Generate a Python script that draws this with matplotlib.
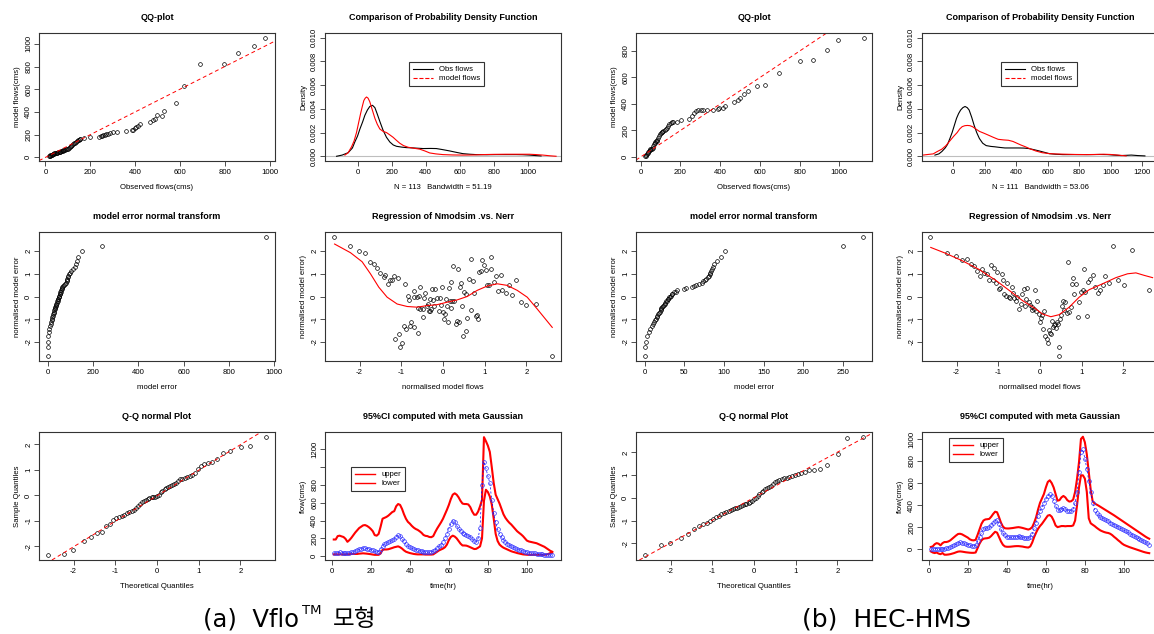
import numpy as np
import matplotlib
matplotlib.use("Agg")
import matplotlib.pyplot as plt
from matplotlib.lines import Line2D

plt.rcParams['font.family'] = ['Liberation Sans', 'DejaVu Sans']
plt.rcParams['axes.unicode_minus'] = False

W, H = 1154, 634

# ---------------- data ----------------
# QQ-plot: sorted observed vs sorted model flows
obs_q_a = [15, 18, 20, 22, 25, 28, 30, 32, 35, 38, 40, 43, 46, 50, 53, 56, 60, 63, 66, 70,
           73, 76, 80, 84, 88, 92, 96, 100, 104, 108, 112, 116, 120, 124, 128, 132, 136, 140, 144, 148,
           152, 156, 170, 197, 240, 246, 252, 258, 265, 272, 280, 290, 300, 320, 360, 385, 390, 398, 405, 412,
           420, 467, 478, 490, 497, 518, 529, 581, 619, 689, 796, 859, 930, 981]
mod_q_a = [10, 12, 15, 18, 20, 23, 25, 27, 30, 32, 35, 37, 39, 40, 42, 43, 45, 48, 50, 55,
           58, 60, 62, 65, 68, 70, 73, 78, 84, 90, 96, 104, 112, 118, 124, 130, 138, 145, 150, 155,
           160, 165, 170, 176, 180, 185, 190, 195, 200, 205, 210, 215, 220, 225, 235, 238, 245, 255, 265, 280,
           295, 315, 325, 340, 370, 368, 405, 480, 630, 818, 824, 920, 980, 1053]
obs_q_b = [22, 25, 28, 32, 35, 38, 42, 45, 48, 50, 55, 60, 63, 67, 70, 73, 76, 80, 84, 88,
           92, 96, 100, 105, 109, 114, 120, 125, 131, 137, 143, 150, 155, 160, 182, 205, 244, 257, 269, 277,
           289, 303, 314, 331, 365, 387, 395, 412, 424, 471, 487, 501, 521, 538, 585, 627, 697, 803, 866, 938,
           992, 1126]
mod_q_b = [5, 8, 15, 22, 30, 38, 45, 52, 58, 60, 62, 68, 80, 96, 105, 112, 118, 121, 128, 140,
           158, 170, 178, 185, 189, 195, 202, 209, 218, 234, 245, 255, 262, 267, 267, 282, 284, 309, 335, 347,
           352, 352, 352, 352, 355, 360, 367, 372, 382, 418, 428, 448, 478, 498, 533, 543, 636, 724, 730, 805,
           883, 896]

# density curves
dens_obs_a_x = [-123, -90, -55, -30, -16, 0, 14, 30, 43, 58, 72, 88, 102, 115, 132, 150, 170, 190, 210, 229,
                260, 287, 330, 385, 430, 463, 500, 541, 580, 619, 660, 697, 760, 814, 870, 932, 970, 1010, 1045, 1078]
dens_obs_a_y = [0.0, 0.0001, 0.0003, 0.0007, 0.0012, 0.0017, 0.0023, 0.0029, 0.00345, 0.0039,
                0.0042, 0.0043, 0.0041, 0.0036, 0.0029, 0.0022, 0.0016, 0.0012, 0.00095, 0.00084,
                0.00077, 0.00073, 0.0007, 0.00065, 0.00066, 0.00065, 0.00056, 0.00045, 0.00033, 0.00022,
                0.00017, 0.00014, 0.00013, 0.00014, 0.00014, 0.00014, 0.00013, 0.0001, 0.00006, 0.00003]
dens_mod_a_x = [-74, -55, -35, -20, -6, 6, 18, 28, 37, 45, 53, 62, 72, 87, 102, 116, 131, 150, 170, 190,
                209, 228, 248, 270, 297, 330, 365, 395, 424, 460, 502, 560, 619, 680, 736, 800, 873, 940, 1010, 1050,
                1088, 1130, 1166]
dens_mod_a_y = [0.0001, 0.0003, 0.0008, 0.0013, 0.002, 0.0028, 0.0036, 0.0042, 0.0047, 0.0049,
                0.005, 0.0049, 0.0046, 0.0039, 0.0032, 0.0027, 0.0023, 0.0021, 0.002, 0.0018,
                0.0016, 0.00135, 0.0011, 0.0009, 0.00076, 0.00068, 0.0006, 0.00045, 0.00028, 0.0002,
                0.00014, 0.00011, 0.0001, 0.00011, 0.00014, 0.00016, 0.00017, 0.00017, 0.00017, 0.00014,
                0.0001, 0.00004, 0.0]
dens_obs_b_x = [-115, -90, -71, -50, -35, -20, -6, 8, 22, 35, 48, 62, 76, 90, 102, 118, 134, 150, 167, 188,
                210, 240, 264, 300, 329, 370, 416, 450, 481, 515, 546, 580, 611, 650, 697, 780, 871, 930, 979, 1020,
                1066, 1100, 1131, 1170, 1217]
dens_obs_b_y = [0.0001, 0.0002, 0.0004, 0.0007, 0.001, 0.0015, 0.002, 0.0026, 0.0032, 0.0036,
                0.0039, 0.0041, 0.0042, 0.0041, 0.0039, 0.0033, 0.0026, 0.002, 0.0015, 0.0011,
                0.0009, 0.00083, 0.0008, 0.00074, 0.0007, 0.0007, 0.0007, 0.00069, 0.00065, 0.00055,
                0.00045, 0.00033, 0.00022, 0.00017, 0.00014, 0.00014, 0.00014, 0.00015, 0.00014, 0.0001,
                0.00006, 0.00008, 0.0001, 0.00006, 0.00003]
dens_mod_b_x = [-191, -160, -126, -100, -71, -45, -17, 5, 26, 42, 58, 75, 91, 107, 123, 145, 167, 195, 221, 255,
                286, 320, 351, 380, 405, 430, 459, 490, 524, 565, 611, 660, 719, 780, 849, 900, 957, 1000, 1044, 1075,
                1098]
dens_mod_b_y = [0.0001, 0.00015, 0.0002, 0.0004, 0.0006, 0.0009, 0.00135, 0.0017, 0.002, 0.0023,
                0.0025, 0.00258, 0.0026, 0.00258, 0.0025, 0.0023, 0.0021, 0.00195, 0.0018, 0.0016,
                0.00143, 0.00138, 0.00135, 0.00125, 0.0011, 0.00095, 0.0008, 0.00062, 0.00045, 0.0003,
                0.00022, 0.00019, 0.00017, 0.00015, 0.00014, 0.00015, 0.00017, 0.00015, 0.0001, 0.00006,
                0.00003]

# normal scores shared by the error-transform and Q-Q normal panels
nscore = [-2.62, -2.22, -2.01, -1.75, -1.58, -1.44, -1.32, -1.22, -1.13, -1.05,
          -0.98, -0.91, -0.85, -0.78, -0.72, -0.67, -0.61, -0.56, -0.51, -0.46,
          -0.41, -0.36, -0.32, -0.27, -0.22, -0.18, -0.13, -0.09, -0.04, 0.0,
          0.04, 0.09, 0.13, 0.18, 0.22, 0.27, 0.32, 0.36, 0.41, 0.46,
          0.51, 0.56, 0.61, 0.67, 0.72, 0.78, 0.85, 0.91, 0.98, 1.05,
          1.13, 1.22, 1.32, 1.44, 1.58, 1.75, 2.01, 2.22, 2.62]
err_a = [0, 0, 1, 3, 5, 6, 9, 13, 15, 17, 19, 21, 22, 24, 26, 28, 29, 30, 32, 34,
         35, 37, 38, 40, 42, 44, 45, 47, 48, 50, 51, 53, 55, 56, 57, 59, 61, 62, 65, 68,
         74, 78, 81, 84, 85, 87, 88, 91, 95, 98, 104, 112, 120, 126, 131, 133, 150, 238, 965]
err_b = [0, 0, 1, 3, 5, 7, 9, 10, 12, 13, 14, 15, 16, 17, 18, 19, 20, 20.5, 21, 22,
         23, 24, 25, 26, 27, 28, 29, 30, 31, 32, 33, 34, 35, 37, 39, 41, 50, 52, 60, 62,
         65, 68, 72, 74, 76, 78, 80, 81, 82, 83, 84, 85, 86, 88, 91, 96, 102, 250, 276]
sq_a = [-2.33, -2.30, -2.15, -1.78, -1.62, -1.48, -1.42, -1.19, -1.10, -0.98,
        -0.90, -0.84, -0.80, -0.75, -0.70, -0.66, -0.61, -0.55, -0.49, -0.42,
        -0.33, -0.27, -0.22, -0.17, -0.12, -0.09, -0.06, -0.05, -0.04, -0.02,
        0.0, 0.12, 0.18, 0.25, 0.31, 0.35, 0.38, 0.41, 0.44, 0.48,
        0.56, 0.63, 0.66, 0.69, 0.71, 0.76, 0.82, 0.89, 1.05, 1.14,
        1.22, 1.27, 1.33, 1.45, 1.66, 1.76, 1.91, 1.96, 2.30]
sq_b = [-2.53, -2.10, -2.01, -1.76, -1.58, -1.36, -1.24, -1.17, -1.10, -1.02,
        -0.93, -0.85, -0.78, -0.72, -0.68, -0.64, -0.60, -0.55, -0.50, -0.46,
        -0.43, -0.40, -0.37, -0.33, -0.29, -0.26, -0.22, -0.18, -0.12, -0.06,
        -0.02, 0.06, 0.15, 0.24, 0.30, 0.37, 0.42, 0.47, 0.53, 0.60,
        0.69, 0.76, 0.80, 0.84, 0.86, 0.89, 0.92, 0.95, 1.00, 1.04,
        1.10, 1.15, 1.21, 1.24, 1.27, 1.44, 1.91, 2.62, 2.69]
qq_line_a = (-0.01, 1.0)   # intercept, slope
qq_line_b = (0.01, 1.0)

# regression of normalised model flows vs normalised model error
reg_a_x = [-2.62, -2.22, -2.01, -1.86, -1.76, -1.66, -1.58, -1.5, -1.42, -1.38,
           -1.32, -1.26, -1.22, -1.18, -1.09, -0.9, -0.85, -0.82, -0.7, -0.69,
           -0.62, -0.58, -0.54, -0.61, -0.54, -0.48, -0.45, -0.42, -0.38, -0.37,
           -0.32, -0.3, -0.26, -0.24, -0.21, -0.18, -0.14, -0.1, -0.08, -0.05,
           -0.02, 0.0, 0.02, 0.04, 0.07, 0.1, 0.11, 0.14, 0.16, 0.18,
           0.2, 0.22, 0.24, 0.27, 0.31, 0.34, 0.36, 0.38, 0.4, 0.42,
           0.46, 0.48, 0.51, 0.54, 0.56, 0.58, 0.62, 0.66, 0.68, 0.71,
           0.74, 0.78, 0.82, 0.84, 0.87, 0.91, 0.94, 0.98, 1.03, 1.06,
           1.1, 1.14, 1.16, 1.23, 1.27, 1.31, 1.38, 1.42, 1.5, 1.58,
           1.66, 1.74, 1.86, 2.0, 2.22, 2.62,
           -1.14, -1.05, -1.02, -0.98, -0.94, -0.88, -0.78, -0.76, -0.69, -0.61,
           -0.48, -0.34, -0.28]
reg_a_y = [2.64, 2.22, 2.01, 1.9, 1.53, 1.45, 1.27, 1.04, 0.86, 0.96,
           0.53, 0.74, 0.74, 0.89, 0.83, 0.56, 0.04, -0.15, 0.24, 0.0,
           0.0, 0.04, 0.44, -0.5, -0.55, -0.55, -0.06, 0.16, -0.4, -0.33,
           -0.65, -0.1, 0.31, -0.15, -0.4, 0.34, -0.06, -0.65, -0.06, -0.36,
           0.41, -0.7, -0.99, -0.77, -0.1, -0.4, -1.14, 0.37, -0.18, 0.64,
           -0.5, -0.18, 1.33, -0.21, -1.21, -1.07, 1.19, -1.14, 0.41, 0.59,
           -0.44, -1.73, 0.19, -1.51, 0.12, -0.95, 0.79, 1.67, -0.59, 0.68,
           0.15, -0.84, -0.8, -0.99, 1.08, 1.13, 1.6, 1.38, 1.16, 0.49,
           0.49, 1.23, 1.75, 0.64, 0.9, 0.24, 0.93, 0.3, 0.15, 0.49,
           0.07, 0.71, -0.25, -0.37, -0.33, -2.62,
           -1.88, -1.66, -2.22, -2.03, -1.29, -1.41, -1.29, -1.14, -1.36, -1.59,
           -0.89, -0.62, -0.55]
loess_a_x = [-2.6, -2.22, -1.94, -1.74, -1.54, -1.34, -1.1, -0.86, -0.62, -0.38, -0.14,
             0.1, 0.34, 0.58, 0.82, 1.06, 1.3, 1.54, 1.78, 2.02, 2.26, 2.62]
loess_a_y = [2.31, 1.93, 1.53, 1.0, 0.41, -0.03, -0.33, -0.44, -0.47, -0.4, -0.36,
             -0.25, -0.15, 0.0, 0.27, 0.46, 0.56, 0.49, 0.27, -0.03, -0.55, -1.36]

reg_b_x = [-2.63, -2.23, -2.02, -1.87, -1.75, -1.66, -1.58, -1.5, -1.44, -1.38,
           -1.34, -1.28, -1.23, -1.18, -1.12, -1.1, -1.06, -1.02, -0.98, -0.95,
           -0.91, -0.88, -0.86, -0.82, -0.78, -0.75, -0.72, -0.67, -0.64, -0.62,
           -0.58, -0.54, -0.5, -0.46, -0.42, -0.39, -0.35, -0.34, -0.3, -0.27,
           -0.23, -0.2, -0.18, -0.15, -0.12, -0.1, -0.06, -0.02, 0.0, 0.02,
           0.05, 0.06, 0.1, 0.13, 0.16, 0.18, 0.21, 0.24, 0.26, 0.29,
           0.3, 0.33, 0.35, 0.38, 0.4, 0.42, 0.45, 0.46, 0.48, 0.5,
           0.53, 0.56, 0.58, 0.61, 0.64, 0.67, 0.7, 0.74, 0.76, 0.78,
           0.82, 0.86, 0.9, 0.94, 0.98, 1.02, 1.05, 1.09, 1.13, 1.16,
           1.21, 1.26, 1.32, 1.38, 1.44, 1.5, 1.57, 1.65, 1.74, 1.86,
           2.01, 2.21, 2.62]
reg_b_y = [2.64, 1.9, 1.78, 1.6, 1.67, 1.42, 1.33, 1.13, 0.9, 1.23,
           1.04, 1.0, 0.71, 1.38, 0.71, 1.27, 0.59, 1.08, 0.34, 0.39,
           0.98, 0.74, 0.09, 0.04, 0.59, 0.0, -0.06, 0.41, 0.15, -0.06,
           -0.18, 0.0, -0.55, -0.33, 0.12, 0.34, -0.4, -0.1, 0.39, -0.25,
           -0.36, -0.47, -0.59, -0.55, 0.27, -0.65, -0.18, -0.77, -1.14, -0.95,
           -0.8, -1.44, -0.62, -1.73, -1.88, -2.03, -1.48, -1.59, -1.66, -1.1,
           -1.33, -1.24, -1.19, -1.39, -1.14, -1.19, -2.22, -2.62, -0.99, -0.8,
           -0.4, -0.18, -0.59, -0.25, -0.74, 1.53, -0.7, -0.47, 0.56, 0.83,
           0.09, 0.56, -0.92, -0.25, 0.19, 0.27, 1.19, 0.19, -0.84, 0.64,
           0.79, 0.93, 0.41, 0.15, 0.27, 0.49, 0.89, 0.59, 2.22, 0.74,
           0.49, 2.04, 0.3]
loess_b_x = [-2.62, -2.26, -1.86, -1.46, -1.06, -0.74, -0.42, -0.1, 0.06, 0.26,
             0.46, 0.7, 0.94, 1.18, 1.5, 1.82, 2.1, 2.3, 2.5, 2.7]
loess_b_y = [2.16, 1.9, 1.57, 1.19, 0.71, 0.27, -0.18, -0.55, -0.77, -0.89,
             -0.8, -0.47, -0.03, 0.3, 0.56, 0.83, 1.0, 1.04, 0.93, 0.83]

# 95% CI time series (hours 1..113)
hours = np.arange(1, 114)
up_a = [187, 187, 225, 230, 222, 215, 195, 161, 180, 205,
        235, 265, 290, 315, 330, 345, 349, 340, 325, 305,
        280, 236, 230, 250, 330, 420, 430, 440, 455, 475,
        495, 505, 560, 585, 575, 530, 470, 420, 385, 365,
        340, 320, 305, 295, 280, 262, 238, 228, 225, 215,
        213, 225, 270, 310, 345, 380, 420, 470, 520, 575,
        640, 690, 705, 690, 660, 620, 590, 585, 585, 580,
        550, 500, 465, 465, 500, 560, 630, 1335, 1290, 1240,
        1170, 1000, 820, 690, 640, 590, 530, 470, 430, 400,
        375, 355, 330, 305, 280, 262, 245, 225, 200, 175,
        165, 160, 155, 150, 145, 135, 125, 115, 105, 90,
        75, 60, 50]
lo_a = [20, 20, 20, 20, 20, 20, 20, 20, 22, 24,
        25, 25, 25, 28, 30, 32, 30, 28, 25, 22,
        18, 15, 15, 15, 30, 70, 75, 75, 78, 85,
        92, 100, 105, 110, 100, 85, 65, 50, 42, 35,
        30, 25, 22, 20, 20, 20, 20, 18, 18, 18,
        18, 20, 35, 50, 65, 75, 85, 100, 130, 180,
        215, 230, 220, 200, 170, 140, 120, 120, 118, 110,
        100, 90, 80, 82, 95, 110, 200, 620, 745, 720,
        670, 580, 420, 250, 170, 130, 110, 95, 85, 75,
        65, 55, 48, 42, 35, 30, 25, 20, 18, 16,
        15, 15, 15, 15, 15, 15, 15, 15, 15, 18,
        25, 35, 40]
mid_a = [35, 35, 40, 42, 40, 38, 35, 32, 35, 42,
         50, 58, 65, 75, 85, 92, 90, 85, 80, 72,
         65, 55, 45, 50, 80, 110, 140, 145, 155, 165,
         180, 190, 215, 235, 225, 195, 165, 135, 115, 100,
         90, 80, 72, 65, 60, 55, 50, 48, 45, 44,
         45, 55, 70, 90, 110, 130, 160, 200, 250, 310,
         365, 400, 385, 340, 310, 285, 265, 252, 240, 225,
         215, 195, 170, 160, 200, 320, 800, 1060, 985, 900,
         820, 630, 480, 380, 300, 250, 215, 185, 160, 140,
         125, 110, 100, 90, 80, 72, 65, 58, 52, 45,
         40, 36, 33, 30, 28, 25, 22, 20, 18, 16,
         14, 12, 10]
up_b = [20, 25, 45, 55, 50, 35, 55, 65, 65, 70,
        80, 95, 110, 125, 138, 140, 135, 125, 115, 105,
        90, 82, 80, 85, 130, 180, 230, 260, 270, 272,
        275, 295, 320, 340, 335, 290, 240, 205, 190, 188,
        188, 190, 192, 195, 198, 200, 197, 193, 188, 183,
        178, 185, 200, 240, 290, 360, 420, 460, 500, 560,
        610, 625, 600, 560, 500, 440, 445, 470, 483, 470,
        445, 432, 435, 450, 520, 640, 790, 1000, 1020, 970,
        860, 700, 540, 435, 415, 405, 395, 384, 373, 362,
        351, 340, 329, 318, 307, 295, 283, 271, 259, 247,
        235, 223, 211, 199, 187, 175, 163, 151, 139, 127,
        115, 104, 95]
lo_b = [-20, -30, -35, -30, -40, -45, -35, -50, -50, -48,
        -45, -40, -35, -28, -22, -20, -22, -25, -28, -30,
        -32, -33, -33, -30, 10, 50, 80, 95, 98, 100,
        105, 120, 140, 158, 150, 110, 70, 40, 25, 22,
        22, 23, 25, 27, 28, 28, 26, 24, 20, 17,
        15, 25, 60, 110, 150, 185, 210, 230, 255, 280,
        305, 310, 295, 260, 215, 200, 205, 210, 210, 208,
        210, 210, 210, 215, 260, 400, 560, 670, 670, 640,
        520, 280, 235, 222, 210, 195, 182, 170, 162, 155,
        150, 147, 140, 128, 112, 98, 82, 68, 52, 40,
        32, 25, 18, 12, 6, 0, -6, -12, -18, -24,
        -29, -33, -36]
mid_b = [0, 2, 5, 5, 2, 0, 2, 5, 8, 12,
         18, 25, 35, 45, 55, 62, 60, 55, 48, 42,
         36, 30, 28, 35, 70, 110, 150, 180, 190, 193,
         198, 215, 240, 260, 262, 225, 180, 145, 125, 112,
         108, 108, 110, 112, 115, 118, 115, 110, 105, 100,
         98, 110, 140, 190, 240, 300, 345, 380, 420, 455,
         485, 500, 485, 440, 390, 360, 355, 365, 370, 365,
         350, 345, 350, 365, 420, 520, 700, 880, 905, 820,
         730, 620, 520, 420, 360, 330, 310, 295, 282, 272,
         262, 252, 242, 232, 222, 212, 202, 192, 182, 172,
         162, 152, 142, 132, 122, 112, 102, 92, 82, 72,
         62, 52, 42]

# ---------------- figure ----------------
fig = plt.figure(figsize=(W / 100, H / 100), dpi=100)

COLS = [39, 325, 636, 922]
ROWS = [(33, 128), (232, 129), (432, 128)]
FS = 5.6


def panel(col, row):
    top, h = ROWS[row]
    return fig.add_axes([COLS[col] / W, 1 - (top + h) / H, 236 / W, h / H])


def r_style(ax, title, xlabel, ylabel, xticks, yticks, xlim, ylim, ylabels=None):
    ax.set_title(title, fontsize=6.5, fontweight='bold', pad=9.5)
    ax.set_xlabel(xlabel, fontsize=FS, labelpad=5.5)
    ax.set_ylabel(ylabel, fontsize=FS, labelpad=3)
    ax.set_xticks(xticks)
    if ylabels is None:
        ylabels = [f"{v:g}" for v in yticks]
    ax.set_yticks(yticks, labels=ylabels)
    ax.set_xlim(xlim)
    ax.set_ylim(ylim)
    ax.tick_params(length=3.6, width=0.6, labelsize=FS, color='#333333')
    ax.tick_params(axis='x', pad=2.3)
    ax.tick_params(axis='y', pad=1.3)
    plt.setp(ax.get_yticklabels(), rotation=90, va='center')
    for s in ax.spines.values():
        s.set_color('#333333')
        s.set_linewidth(0.8)


def pts(ax, x, y, color='black'):
    ax.plot(x, y, ls='none', marker='o', mfc='none', mec=color, ms=2.7, mew=0.5)


RED_DASH = dict(color='red', lw=0.7, ls=(0, (4, 3)))


def qq_panel(col, obs, mod, xlim, ylim, yticks):
    ax = panel(col, 0)
    pts(ax, obs, mod)
    ax.axline((0, 0), slope=1, **RED_DASH)
    r_style(ax, 'QQ-plot', 'Observed flows(cms)', 'model flows(cms)',
            [0, 200, 400, 600, 800, 1000], yticks, xlim, ylim)


def pdf_panel(col, ox, oy, mx, my, xlabel, xlim, xticks, legx):
    ax = panel(col, 0)
    ax.axhline(0, color='#bebebe', lw=0.8, zorder=1)
    ax.plot(ox, oy, color='black', lw=0.8)
    ax.plot(mx, my, color='red', lw=0.8)
    yt = [0.0, 0.002, 0.004, 0.006, 0.008, 0.010]
    r_style(ax, 'Comparison of Probability Density Function', xlabel, 'Density',
            xticks, yt, xlim, (-0.0004, 0.0104), ylabels=[f"{v:.3f}" for v in yt])
    handles = [Line2D([], [], color='black', lw=0.8),
               Line2D([], [], color='red', lw=0.8, ls='--')]
    leg = ax.legend(handles, ['Obs flows', 'model flows'], loc='upper left',
                    bbox_to_anchor=(legx, 0.773), fontsize=FS, fancybox=False,
                    edgecolor='#333333', framealpha=1, borderpad=0.5,
                    handlelength=2.6, labelspacing=0.2, borderaxespad=0)
    leg.get_frame().set_linewidth(0.8)


def err_panel(col, err, xlim, xticks):
    ax = panel(col, 1)
    pts(ax, err, nscore)
    r_style(ax, 'model error normal transform', 'model error', 'normalised model error',
            xticks, [-2, -1, 0, 1, 2], xlim, (-2.84, 2.84))


def reg_panel(col, rx, ry, lx, ly):
    ax = panel(col, 1)
    pts(ax, rx, ry)
    ax.plot(lx, ly, color='red', lw=0.8)
    r_style(ax, 'Regression of Nmodsim .vs. Nerr', 'normalised model flows',
            'normalised model error)', [-2, -1, 0, 1, 2], [-2, -1, 0, 1, 2],
            (-2.83, 2.83), (-2.84, 2.84))


def qqnorm_panel(col, sq, line, ylim):
    ax = panel(col, 2)
    pts(ax, nscore, sq)
    ax.axline((0, line[0]), slope=line[1], **RED_DASH)
    r_style(ax, 'Q-Q normal Plot', 'Theoretical Quantiles', 'Sample Quantiles',
            [-2, -1, 0, 1, 2], [-2, -1, 0, 1, 2], (-2.83, 2.83), ylim)


def ci_panel(col, up, lo, mid, yticks, ylabels, ylim, legpos):
    ax = panel(col, 2)
    ax.plot(hours, up, color='red', lw=1.5)
    ax.plot(hours, lo, color='red', lw=1.5)
    ax.plot(hours, mid, color='blue', lw=0.5, ls=(0, (3, 3)),
            marker='o', mfc='none', mec='#3333ff', ms=2.7, mew=0.5)
    r_style(ax, '95%CI computed with meta Gaussian', 'time(hr)', 'flow(cms)',
            [0, 20, 40, 60, 80, 100], yticks, (-3.5, 117.5), ylim, ylabels=ylabels)
    handles = [Line2D([], [], color='red', lw=1.0), Line2D([], [], color='red', lw=1.0)]
    leg = ax.legend(handles, ['upper', 'lower'], loc='upper left', bbox_to_anchor=legpos,
                    fontsize=FS, fancybox=False, edgecolor='#333333', framealpha=1,
                    borderpad=0.5, handlelength=2.6, labelspacing=0.2, borderaxespad=0)
    leg.get_frame().set_linewidth(0.8)


# (a) Vflo
qq_panel(0, obs_q_a, mod_q_a, (-29, 1024), (-32, 1095), [0, 200, 400, 600, 800, 1000])
pdf_panel(1, dens_obs_a_x, dens_obs_a_y, dens_mod_a_x, dens_mod_a_y,
          'N = 113   Bandwidth = 51.19', (-191, 1195), [0, 200, 400, 600, 800, 1000], 0.356)
err_panel(0, err_a, (-38.6, 1003.6), [0, 200, 400, 600, 800, 1000])
reg_panel(1, reg_a_x, reg_a_y, loess_a_x, loess_a_y)
qqnorm_panel(0, sq_a, qq_line_a, (-2.53, 2.49))
ci_panel(1, up_a, lo_a, mid_a, [0, 200, 400, 600, 800, 1000, 1200],
         ['0', '200', '400', '600', '800', '', '1200'], (-43, 1393), (0.11, 0.726))

# (b) HEC-HMS
qq_panel(2, obs_q_b, mod_q_b, (-24, 1164), (-31, 936), [0, 200, 400, 600, 800])
pdf_panel(3, dens_obs_b_x, dens_obs_b_y, dens_mod_b_x, dens_mod_b_y,
          'N = 111   Bandwidth = 53.06', (-197, 1300), [0, 200, 400, 600, 800, 1000, 1200], 0.335)
err_panel(2, err_b, (-11, 287), [0, 50, 100, 150, 200, 250])
reg_panel(3, reg_b_x, reg_b_y, loess_b_x, loess_b_y)
qqnorm_panel(2, sq_b, qq_line_b, (-2.74, 2.9))
ci_panel(3, up_b, lo_b, mid_b, [0, 200, 400, 600, 800, 1000], None, (-98, 1063), (0.113, 0.953))

# captions
cap_font = ['DejaVu Sans', 'Noto Sans CJK KR']
fig.text(203 / W, 1 - 620 / H, '(a)  Vflo', fontsize=17.5, family=cap_font, ha='left', va='center')
fig.text(302 / W, 1 - 610 / H, 'TM', fontsize=9.5, family=cap_font, ha='left', va='center')
fig.text(333 / W, 1 - 619 / H, '모형', fontsize=17, family=['Noto Sans CJK KR'], ha='left', va='center')
fig.text(802 / W, 1 - 620 / H, '(b)  HEC-HMS', fontsize=18, family=cap_font, ha='left', va='center')

fig.savefig('out.png', dpi=100)
